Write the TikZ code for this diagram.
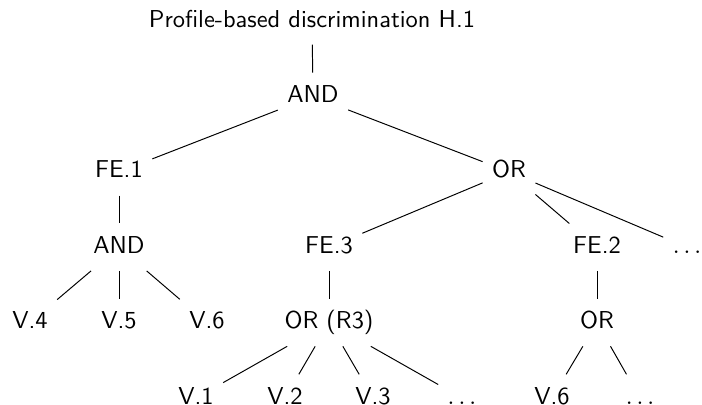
\documentclass[tikz,border=0pt]{standalone}
\renewcommand{\familydefault}{\sfdefault}
\begin{document}
\begin{tikzpicture}[x=0.409pt,y=-0.409pt,
  every node/.style={minimum height=19pt,inner xsep=3.7pt,text height=7pt,text depth=2pt}]
\useasboundingbox (0,0) rectangle (702,404);

\node (root) at (312,21) {Profile-based discrimination H.1};
\node (and1) at (313,96.4) {AND};

\node (fe1) at (119,171.8) {FE.1};
\node (or1) at (509,171.8) {OR};

\node (and2) at (119,247.2) {AND};
\node (fe3) at (329,247.2) {FE.3};
\node (fe2) at (597,247.2) {FE.2};
\node (dotsa) at (687,247.2) {$\ldots$};

\node (v4) at (30,322.6) {V.4};
\node (v5) at (119,322.6) {V.5};
\node (v6) at (207,322.6) {V.6};
\node (or3) at (329,322.6) {OR (R3)};
\node (or2) at (597,322.6) {OR};

\node (v1) at (196,398) {V.1};
\node (v2) at (285,398) {V.2};
\node (v3) at (373,398) {V.3};
\node (dotsb) at (462,398) {$\ldots$};
\node (v6b) at (552,398) {V.6};
\node (dotsc) at (640,398) {$\ldots$};

\draw (root)--(and1);
\draw (and1)--(fe1);
\draw (and1)--(or1);
\draw (fe1)--(and2);
\draw (or1)--(fe3);
\draw (or1)--(fe2);
\draw (or1)--(dotsa);
\draw (and2)--(v4);
\draw (and2)--(v5);
\draw (and2)--(v6);
\draw (fe3)--(or3);
\draw (fe2)--(or2);
\draw (or3)--(v1);
\draw (or3)--(v2);
\draw (or3)--(v3);
\draw (or3)--(dotsb);
\draw (or2)--(v6b);
\draw (or2)--(dotsc);
\end{tikzpicture}
\end{document}
